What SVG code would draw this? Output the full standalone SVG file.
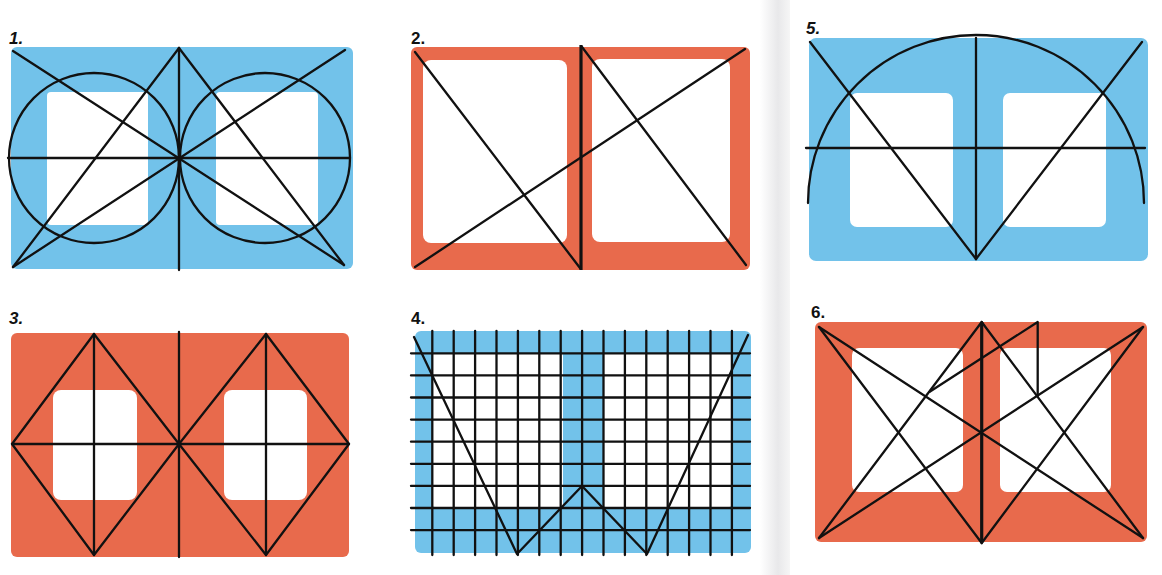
<svg xmlns="http://www.w3.org/2000/svg" width="1162" height="575" viewBox="0 0 1162 575">
<defs>
<linearGradient id="gut" x1="0" y1="0" x2="1" y2="0">
<stop offset="0" stop-color="#ffffff"/>
<stop offset="0.6" stop-color="#e8e8ea"/>
<stop offset="1" stop-color="#f6f6f6"/>
</linearGradient>
</defs>
<style>
.blue{fill:#72c2ea}
.red{fill:#e86a4c}
.pg{fill:#ffffff}
.ln{stroke:#111111;stroke-width:2.3;fill:none;stroke-linecap:round;stroke-linejoin:round}
.thick{stroke:#111111;stroke-width:3.2;fill:none}
.lbl{font-family:"Liberation Sans",Arial,sans-serif;font-size:17px;font-weight:bold;fill:#111111}
</style>
<rect x="0" y="0" width="1162" height="575" fill="#ffffff"/>
<rect x="760" y="0" width="30" height="575" fill="url(#gut)"/>

<g id="panel1">
<text class="lbl" x="9" y="44" font-style="italic">1.</text>
<rect class="blue" x="11" y="47" width="342" height="222" rx="6"/>
<rect class="pg" x="47" y="92" width="101" height="133" rx="4"/>
<rect class="pg" x="216" y="92" width="102" height="133" rx="4"/>
<circle class="ln" cx="94" cy="158" r="85"/>
<circle class="ln" cx="265" cy="158" r="85"/>
<line class="ln" x1="8" y1="158" x2="350" y2="158"/>
<line class="ln" x1="179" y1="48" x2="179" y2="270"/>
<line class="ln" x1="13" y1="51" x2="344" y2="265"/>
<line class="ln" x1="345" y1="50" x2="13" y2="267"/>
<line class="ln" x1="179" y1="48" x2="13" y2="267"/>
<line class="ln" x1="179" y1="48" x2="344" y2="265"/>
</g>

<g id="panel2">
<text class="lbl" x="411" y="44">2.</text>
<rect class="red" x="411" y="47" width="339" height="223" rx="6"/>
<rect class="pg" x="423" y="60" width="144" height="183" rx="8"/>
<rect class="pg" x="592" y="59" width="138" height="183" rx="8"/>
<line class="thick" x1="581" y1="45" x2="581" y2="270"/>
<line class="ln" x1="415" y1="52" x2="580" y2="268"/>
<line class="ln" x1="582" y1="47" x2="746" y2="265"/>
<line class="ln" x1="415" y1="267" x2="745" y2="49"/>
</g>

<g id="panel5">
<text class="lbl" x="806" y="34" font-style="italic">5.</text>
<rect class="blue" x="809" y="38" width="339" height="223" rx="7"/>
<rect class="pg" x="850" y="93" width="103" height="134" rx="7"/>
<rect class="pg" x="1003" y="93" width="103" height="134" rx="7"/>
<path class="ln" d="M808 203 A168 168 0 0 1 1144 203"/>
<line class="ln" x1="976" y1="38" x2="976" y2="259"/>
<line class="ln" x1="806" y1="148" x2="1145" y2="148"/>
<line class="ln" x1="810" y1="42" x2="976" y2="259"/>
<line class="ln" x1="1142" y1="42" x2="976" y2="259"/>
</g>

<g id="panel3">
<text class="lbl" x="9" y="324" font-style="italic">3.</text>
<rect class="red" x="11" y="333" width="338" height="224" rx="6"/>
<rect class="pg" x="53" y="390" width="84" height="110" rx="8"/>
<rect class="pg" x="224" y="390" width="83" height="110" rx="8"/>
<line class="ln" x1="179" y1="332" x2="179" y2="557"/>
<line class="ln" x1="12" y1="444" x2="349" y2="444"/>
<line class="ln" x1="94" y1="334" x2="94" y2="555"/>
<line class="ln" x1="266" y1="334" x2="266" y2="555"/>
<polygon class="ln" points="94,334 179,444 94,555 12,444"/>
<polygon class="ln" points="266,334 349,444 266,555 179,444"/>
</g>

<g id="panel4">
<text class="lbl" x="411" y="324">4.</text>
<rect class="blue" x="415" y="331" width="336" height="222" rx="6"/>
<rect class="pg" x="432" y="353" width="131" height="154" rx="3"/>
<rect class="pg" x="603" y="353" width="129" height="154" rx="3"/>
<g class="ln">
<line x1="432.3" y1="331" x2="432.3" y2="555"/>
<line x1="453.7" y1="331" x2="453.7" y2="555"/>
<line x1="475.1" y1="331" x2="475.1" y2="555"/>
<line x1="496.5" y1="331" x2="496.5" y2="555"/>
<line x1="517.9" y1="331" x2="517.9" y2="555"/>
<line x1="539.3" y1="331" x2="539.3" y2="555"/>
<line x1="560.7" y1="331" x2="560.7" y2="555"/>
<line x1="582.1" y1="331" x2="582.1" y2="555"/>
<line x1="603.5" y1="331" x2="603.5" y2="555"/>
<line x1="624.9" y1="331" x2="624.9" y2="555"/>
<line x1="646.3" y1="331" x2="646.3" y2="555"/>
<line x1="667.7" y1="331" x2="667.7" y2="555"/>
<line x1="689.1" y1="331" x2="689.1" y2="555"/>
<line x1="710.5" y1="331" x2="710.5" y2="555"/>
<line x1="731.9" y1="331" x2="731.9" y2="555"/>
<line x1="411" y1="353.3" x2="750" y2="353.3"/>
<line x1="411" y1="375.4" x2="750" y2="375.4"/>
<line x1="411" y1="397.5" x2="750" y2="397.5"/>
<line x1="411" y1="419.6" x2="750" y2="419.6"/>
<line x1="411" y1="441.7" x2="750" y2="441.7"/>
<line x1="411" y1="463.8" x2="750" y2="463.8"/>
<line x1="411" y1="485.9" x2="750" y2="485.9"/>
<line x1="411" y1="508" x2="750" y2="508"/>
<line x1="411" y1="530.1" x2="750" y2="530.1"/>
</g>
<polyline class="ln" points="414,337 517,554 582,486 647,554 748,335"/>
</g>

<g id="panel6">
<text class="lbl" x="811" y="318">6.</text>
<rect class="red" x="815" y="322" width="332" height="220" rx="6"/>
<rect class="pg" x="852" y="348" width="111" height="144" rx="7"/>
<rect class="pg" x="1000" y="348" width="111" height="144" rx="7"/>
<line class="thick" x1="981.7" y1="322" x2="981.7" y2="543"/>
<line class="ln" x1="819" y1="327" x2="1143" y2="538"/>
<line class="ln" x1="1143" y1="327" x2="819" y2="538"/>
<line class="ln" x1="819" y1="327" x2="981.7" y2="543"/>
<line class="ln" x1="819" y1="538" x2="981.7" y2="322"/>
<line class="ln" x1="981.7" y1="322" x2="1143" y2="538"/>
<line class="ln" x1="981.7" y1="543" x2="1143" y2="327"/>
<polyline class="ln" points="929.7,391.7 1037.7,322 1037.7,396"/>
</g>
</svg>
